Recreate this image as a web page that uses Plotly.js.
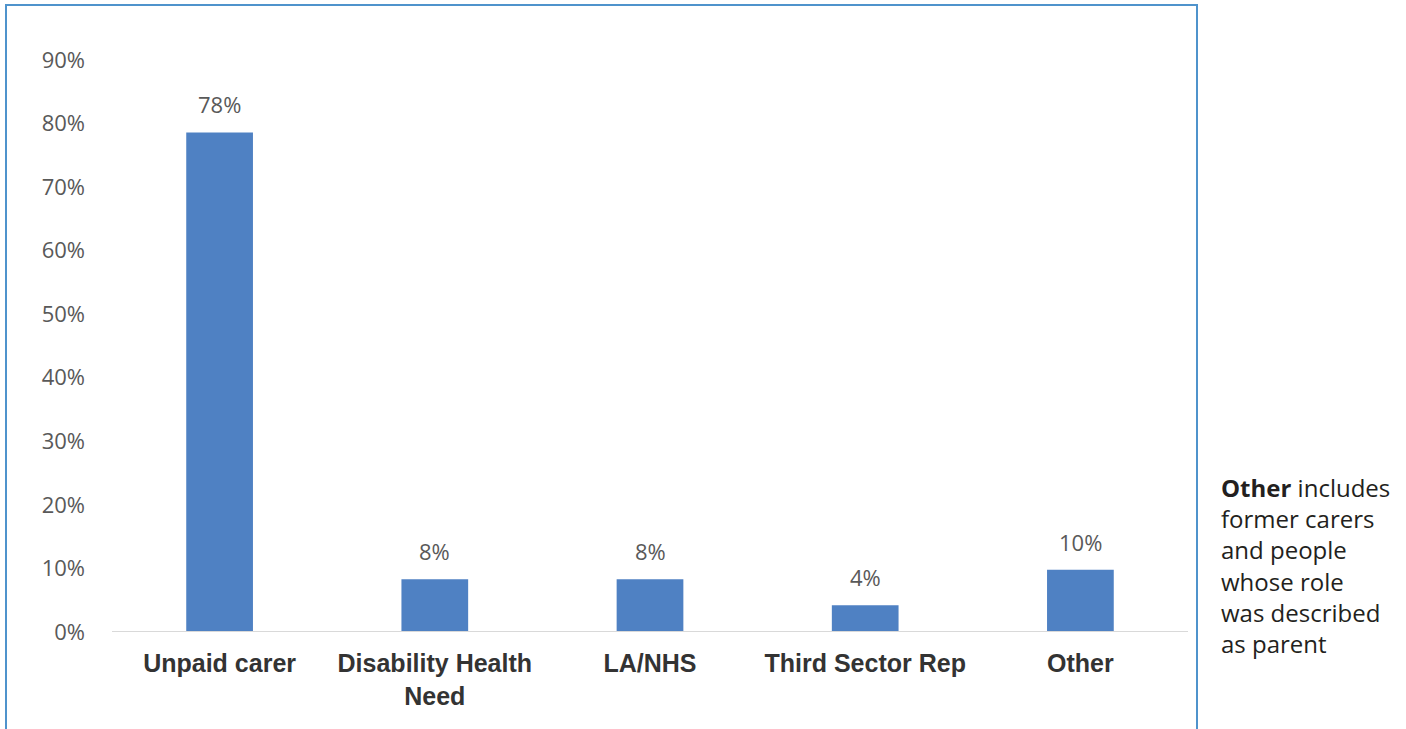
<!DOCTYPE html>
<html>
<head>
<meta charset="utf-8">
<script src="https://cdn.plot.ly/plotly-3.0.1.min.js"></script>
<style>
html,body{margin:0;padding:0;background:#fff;}
#chart{width:1406px;height:729px;}
</style>
</head>
<body>
<div id="chart"></div>
<script>
const categories = ["Unpaid carer", "Disability Health<br>Need", "LA/NHS", "Third Sector Rep", "Other"];
const shares = [0.786, 0.083, 0.083, 0.042, 0.098];
const shareLabels = ["78%", "8%", "8%", "4%", "10%"];
const yTickValues = [0, 0.1, 0.2, 0.3, 0.4, 0.5, 0.6, 0.7, 0.8, 0.9];
const yTickLabels = ["0%", "10%", "20%", "30%", "40%", "50%", "60%", "70%", "80%", "90%"];
const noteText = "<b>Other</b> includes<br>former carers<br>and people<br>whose role<br>was described<br>as parent";

const W = 1406, H = 729;
const m = {l: 112, r: 218, t: 60, b: 97};
const pw = W - m.l - m.r, ph = H - m.t - m.b;
const px = v => (v - m.l) / pw;
const py = v => (H - m.b - v) / ph;

const trace = {
  type: "bar",
  x: categories,
  y: shares,
  marker: {color: "#4f81c3"},
  hoverinfo: "skip"
};

const labelAnns = categories.map((c, i) => ({
  x: c, y: shares[i], xref: "x", yref: "y",
  text: shareLabels[i], showarrow: false,
  yanchor: "bottom", yshift: 11,
  font: {family: "Open Sans, Noto Sans, sans-serif", size: 22, color: "#595959"}
}));

const layout = {
  width: W, height: H,
  margin: m,
  paper_bgcolor: "#fff", plot_bgcolor: "#fff",
  showlegend: false,
  bargap: 0.69,
  xaxis: {
    showgrid: false, zeroline: false, showline: false,
    ticks: "", ticklabelstandoff: 14,
    tickfont: {family: "Liberation Sans, Arial, sans-serif", size: 25, color: "#333333", weight: "bold"}
  },
  yaxis: {
    range: [0, 0.9],
    tickvals: yTickValues, ticktext: yTickLabels,
    showgrid: false, zeroline: false, showline: false,
    ticks: "", ticklabelstandoff: 26,
    tickfont: {family: "Open Sans, Noto Sans, sans-serif", size: 22, color: "#595959"}
  },
  shapes: [
    {type: "line", xref: "paper", yref: "y", x0: 0, x1: 1, y0: 0, y1: 0,
     line: {color: "#d9d9d9", width: 2}},
    {type: "rect", xref: "paper", yref: "paper",
     x0: px(6), x1: px(1197), y0: py(760), y1: py(5),
     line: {color: "#4f93cc", width: 2}, fillcolor: "rgba(0,0,0,0)"}
  ],
  annotations: labelAnns.concat([{
    xref: "paper", yref: "paper",
    x: px(1219), y: py(469),
    xanchor: "left", yanchor: "top", align: "left",
    text: noteText, showarrow: false,
    font: {family: "Open Sans, Noto Sans, sans-serif", size: 24, color: "#231f20"}
  }])
};

Plotly.newPlot("chart", [trace], layout, {displayModeBar: false, staticPlot: true});
</script>
</body>
</html>
